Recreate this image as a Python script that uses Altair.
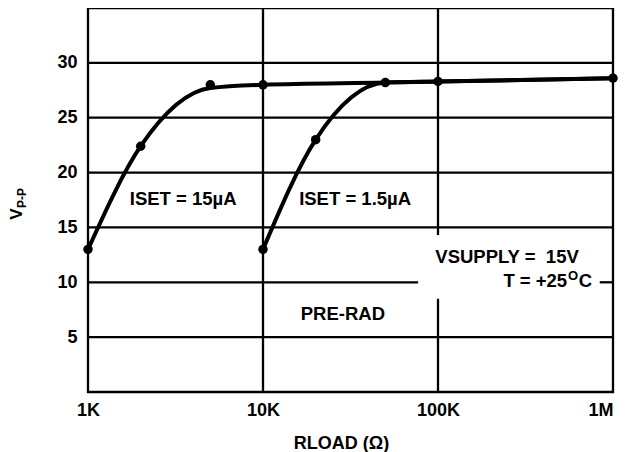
import altair as alt
import pandas as pd

FONT = "Liberation Sans"

# Axis ticks
x_ticks = [1000, 10000, 100000, 1000000]
x_tick_labels = ["1K", "10K", "100K", "1M"]
y_ticks = [5, 10, 15, 20, 25, 30]

# ISET = 15uA curve (measured points and drawn line)
r15_pts = [1000, 2000, 5000, 10000]
v15_pts = [13.0, 22.4, 28.0, 28.0]
r15_line = [1000, 2000, 5000, 10000, 50000, 100000, 1000000]
v15_line = [13.0, 22.4, 27.7, 28.0, 28.2, 28.3, 28.6]

# ISET = 1.5uA curve
r1p5 = [10000, 20000, 50000, 100000, 1000000]
v1p5 = [13.0, 23.0, 28.2, 28.3, 28.6]

# Grid segments (horizontal: y, from-x, to-x ; vertical: x, from-y, to-y)
h_y = [5, 10, 10, 15, 20, 25, 30]
h_from = [1e3, 1e3, 8.4e5, 1e3, 1e3, 1e3, 1e3]
h_to = [1e6, 7.7e4, 1e6, 1e6, 1e6, 1e6, 1e6]
v_x = [1e4, 1e5, 1e5]
v_from = [0, 0, 14.3]
v_to = [35, 8.5, 35]

# Annotations
ann_text = ["ISET = 15\u00b5A", "ISET = 1.5\u00b5A", "VSUPPLY = \u00a015V", "PRE-RAD"]
ann_x = [3500, 33600, 248000, 28600]
ann_y = [17.6, 17.6, 12.3, 7.1]
t_anchor_x = [760000]
t_anchor_y = [10.1]

xscale = alt.Scale(type="log", domain=[1000, 1000000])
yscale = alt.Scale(domain=[0, 35])

label_expr = ("datum.value == 1000 ? '%s' : datum.value == 10000 ? '%s' : "
              "datum.value == 100000 ? '%s' : '%s'" % tuple(x_tick_labels))

xaxis = alt.Axis(values=x_ticks, labelExpr=label_expr, grid=False, ticks=False,
                 domain=False, labelFont=FONT, labelFontWeight="bold",
                 labelFontSize=18, labelColor="black", labelPadding=9,
                 labelFlush=False,
                 labelAlign={"condition": {"test": "datum.value >= 1000000",
                                           "value": "right"},
                             "value": "center"},
                 title="RLOAD (\u03a9)", titleFont=FONT, titleFontWeight="bold",
                 titleFontSize=18, titleColor="black", titlePadding=15,
                 titleX=253)
yaxis = alt.Axis(values=y_ticks, grid=False, ticks=False, domain=False,
                 labelFont=FONT, labelFontWeight="bold", labelFontSize=18,
                 labelColor="black", labelPadding=11, title="")

hgrid = pd.DataFrame({"y": h_y, "x1": h_from, "x2": h_to})
vgrid = pd.DataFrame({"x": v_x, "y1": v_from, "y2": v_to})

hlayer = alt.Chart(hgrid).mark_rule(color="black", strokeWidth=2.3).encode(
    x=alt.X("x1:Q", scale=xscale, axis=xaxis),
    x2="x2:Q",
    y=alt.Y("y:Q", scale=yscale, axis=yaxis),
)
vlayer = alt.Chart(vgrid).mark_rule(color="black", strokeWidth=2.3).encode(
    x=alt.X("x:Q", scale=xscale),
    y=alt.Y("y1:Q", scale=yscale),
    y2="y2:Q",
)

line15 = alt.Chart(pd.DataFrame({"r": r15_line, "v": v15_line})).mark_line(
    color="black", strokeWidth=4, interpolate="monotone").encode(
    x=alt.X("r:Q", scale=xscale), y=alt.Y("v:Q", scale=yscale))
line1p5 = alt.Chart(pd.DataFrame({"r": r1p5, "v": v1p5})).mark_line(
    color="black", strokeWidth=4, interpolate="monotone").encode(
    x=alt.X("r:Q", scale=xscale), y=alt.Y("v:Q", scale=yscale))

pts = pd.DataFrame({"r": r15_pts + r1p5, "v": v15_pts + v1p5})
points = alt.Chart(pts).mark_circle(color="black", opacity=1, size=90).encode(
    x=alt.X("r:Q", scale=xscale), y=alt.Y("v:Q", scale=yscale))

ann = alt.Chart(pd.DataFrame({"t": ann_text, "x": ann_x, "y": ann_y})).mark_text(
    font=FONT, fontWeight="bold", fontSize=18.5, color="black", align="center",
    baseline="middle").encode(
    x=alt.X("x:Q", scale=xscale), y=alt.Y("y:Q", scale=yscale), text="t:N")

tdf = pd.DataFrame({"x": t_anchor_x, "y": t_anchor_y})
t_main = alt.Chart(tdf).mark_text(font=FONT, fontWeight="bold", fontSize=18.5,
                                  color="black", align="right", baseline="middle",
                                  dx=-25).encode(
    x=alt.X("x:Q", scale=xscale), y=alt.Y("y:Q", scale=yscale),
    text=alt.value("T = +25"))
t_sup = alt.Chart(tdf).mark_text(font=FONT, fontWeight="bold", fontSize=13,
                                 color="black", align="right", baseline="middle",
                                 dx=-14, dy=-5).encode(
    x=alt.X("x:Q", scale=xscale), y=alt.Y("y:Q", scale=yscale),
    text=alt.value("O"))
t_c = alt.Chart(tdf).mark_text(font=FONT, fontWeight="bold", fontSize=18.5,
                               color="black", align="right", baseline="middle").encode(
    x=alt.X("x:Q", scale=xscale), y=alt.Y("y:Q", scale=yscale),
    text=alt.value("C"))

ydf = pd.DataFrame({"k": [0]})
ytitle_v = alt.Chart(ydf).mark_text(font=FONT, fontWeight="bold", fontSize=17,
                                    color="black", angle=270, align="center",
                                    baseline="middle").encode(
    x=alt.value(-71), y=alt.value(206), text=alt.value("V"))
ytitle_s = alt.Chart(ydf).mark_text(font=FONT, fontWeight="bold", fontSize=12,
                                    color="black", angle=270, align="center",
                                    baseline="middle").encode(
    x=alt.value(-66), y=alt.value(190), text=alt.value("P-P"))

chart = alt.layer(hlayer, vlayer, line15, line1p5, points, ann, t_main, t_sup,
                  t_c, ytitle_v, ytitle_s).properties(
    width=525, height=384,
    autosize=alt.AutoSizeParams(type="none"),
    padding={"left": 80, "top": 0, "right": 8, "bottom": 60},
    background="white",
).configure_view(stroke="black", strokeWidth=2.3)

chart.save("out.html", embed_options={"renderer": "svg", "actions": False})
